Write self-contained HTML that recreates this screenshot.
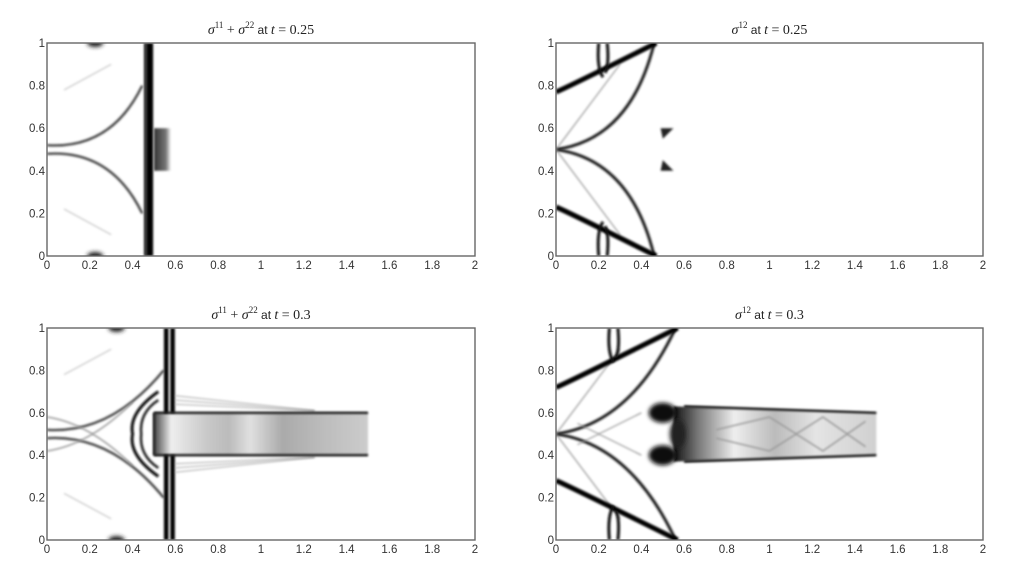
<!DOCTYPE html>
<html><head><meta charset="utf-8">
<style>
html,body{margin:0;padding:0;background:#fff;}
svg{display:block;}
text{font-family:"Liberation Sans",sans-serif;}
.tick{font-size:11.5px;fill:#333;}
.title{font-family:"Liberation Serif",serif;font-size:14px;fill:#222;}
</style></head>
<body>
<svg id="fig" width="1027" height="585" viewBox="0 0 1027 585" xmlns="http://www.w3.org/2000/svg">
<defs>
<filter id="blur" filterUnits="userSpaceOnUse" x="0" y="0" width="1027" height="585"><feGaussianBlur stdDeviation="1.1"/></filter>
<filter id="blur2" filterUnits="userSpaceOnUse" x="0" y="0" width="1027" height="585"><feGaussianBlur stdDeviation="2.2"/></filter>
<linearGradient id="gTL" x1="0" x2="1" y1="0" y2="0"><stop offset="0" stop-color="#333"/><stop offset="0.7" stop-color="#777"/><stop offset="1" stop-color="#fff"/></linearGradient>
<linearGradient id="gStrip" x1="0" x2="1" y1="0" y2="0"><stop offset="0" stop-color="#444"/><stop offset="0.08" stop-color="#eee"/><stop offset="0.25" stop-color="#c8c8c8"/><stop offset="0.35" stop-color="#bbb"/><stop offset="0.45" stop-color="#e0e0e0"/><stop offset="0.6" stop-color="#aaa"/><stop offset="0.8" stop-color="#bdbdbd"/><stop offset="1" stop-color="#ccc"/></linearGradient>
<linearGradient id="gStrip2" x1="0" x2="1" y1="0" y2="0"><stop offset="0" stop-color="#111"/><stop offset="0.12" stop-color="#777"/><stop offset="0.3" stop-color="#eee"/><stop offset="0.5" stop-color="#bbb"/><stop offset="0.7" stop-color="#e4e4e4"/><stop offset="1" stop-color="#d0d0d0"/></linearGradient>
</defs>
</svg>
<script>
const xTicks=[0,0.2,0.4,0.6,0.8,1,1.2,1.4,1.6,1.8,2];
const xTickLabels=["0","0.2","0.4","0.6","0.8","1","1.2","1.4","1.6","1.8","2"];
const yTicks=[0,0.2,0.4,0.6,0.8,1];
const yTickLabels=["0","0.2","0.4","0.6","0.8","1"];
const panelBoxes=[[47,43,475,256],[556,43,983,256],[47,328,475,540],[556,328,983,540]];
const times=["0.25","0.25","0.3","0.3"];
const fieldNames=["sum","s12","sum","s12"];
// strip extents (data units)
const stripStart=[0.5,0.5,0.5,0.55];
const stripEnd=[0.58,0.58,1.5,1.5];
const stripLow=[0.4,0.4,0.4,0.4];
const stripHigh=[0.6,0.6,0.6,0.6];
const frontX=[0.475,0.48,0.575,0.58];

const NS="http://www.w3.org/2000/svg";
const svg=document.getElementById('fig');
function el(tag,attrs,parent){const e=document.createElementNS(NS,tag);for(const k in attrs)e.setAttribute(k,attrs[k]);(parent||svg).appendChild(e);return e;}

panelBoxes.forEach((b,i)=>{
  const [L,T,R,B]=b;
  const sx=v=>L+(R-L)*v/2;
  const sy=v=>B-(B-T)*v;
  const g=el('g',{});
  
  
  const clipId='clip'+i;
  const cp=el('clipPath',{id:clipId},svg.querySelector('defs'));
  el('rect',{x:L,y:T,width:R-L,height:B-T},cp);
  const plot=el('g',{'clip-path':'url(#'+clipId+')'},g);
  
  
  const P=(x,y)=>sx(x).toFixed(1)+','+sy(y).toFixed(1);
  const fx=frontX[i];
  const ln=(d,w,c,f)=>el('path',{d:d,fill:'none',stroke:c,'stroke-width':w,filter:f||'url(#blur)'},plot);
  if(fieldNames[i]==='sum'){
    ln('M'+P(0,0.52)+' Q'+P(0.3,0.5)+' '+P(fx-0.03,0.8),2.4,'#444');
    ln('M'+P(0,0.48)+' Q'+P(0.3,0.5)+' '+P(fx-0.03,0.2),2.4,'#444');
    ln('M'+P(0.08,0.78)+' L'+P(0.3,0.9),1,'#bbb');
    ln('M'+P(0.08,0.22)+' L'+P(0.3,0.1),1,'#bbb');
    el('ellipse',{cx:sx(fx-0.25),cy:sy(1),rx:8,ry:4,fill:'#222',filter:'url(#blur2)'},plot);
    el('ellipse',{cx:sx(fx-0.25),cy:sy(0),rx:8,ry:4,fill:'#222',filter:'url(#blur2)'},plot);
    if(i===0){
      ln('M'+P(fx,0)+' L'+P(fx,1),9,'#000');
      ln('M'+P(fx-0.012,0)+' L'+P(fx-0.012,1),1,'#888');
      el('rect',{x:sx(stripStart[i]),y:sy(stripHigh[i]),width:sx(stripEnd[i])-sx(stripStart[i]),height:sy(stripLow[i])-sy(stripHigh[i]),fill:'url(#gTL)',filter:'url(#blur)'},plot);
    } else {
      ln('M'+P(fx-0.018,0)+' L'+P(fx-0.018,1),4.5,'#000');
      ln('M'+P(fx+0.012,0)+' L'+P(fx+0.012,1),4.5,'#000');
      ln('M'+P(0,0.58)+' Q'+P(0.2,0.55)+' '+P(0.4,0.35),1.5,'#999');
      ln('M'+P(0,0.42)+' Q'+P(0.2,0.45)+' '+P(0.4,0.65),1.5,'#999');
      ln('M'+P(0.52,0.7)+' Q'+P(0.38,0.6)+' '+P(0.4,0.5)+' Q'+P(0.38,0.4)+' '+P(0.52,0.3),3,'#111');
      ln('M'+P(0.52,0.66)+' Q'+P(0.43,0.6)+' '+P(0.44,0.5)+' Q'+P(0.43,0.4)+' '+P(0.52,0.34),2.5,'#222');
      [0.64,0.66,0.68].forEach(y=>{ln('M'+P(0.6,y)+' L'+P(1.25,0.61),1,'#aaa');ln('M'+P(0.6,1-y)+' L'+P(1.25,0.39),1,'#aaa');});
      el('rect',{x:sx(stripStart[i]),y:sy(stripHigh[i]),width:sx(stripEnd[i])-sx(stripStart[i]),height:sy(stripLow[i])-sy(stripHigh[i]),fill:'url(#gStrip)',filter:'url(#blur)'},plot);
      ln('M'+P(stripStart[i],stripHigh[i])+' L'+P(stripEnd[i],stripHigh[i]),2.2,'#000');
      ln('M'+P(stripStart[i],stripLow[i])+' L'+P(stripEnd[i],stripLow[i]),2.2,'#000');
      ln('M'+P(stripStart[i],stripLow[i])+' L'+P(stripStart[i],stripHigh[i]),2,'#000');
    }
  } else {
    const e=fx;
    ln('M'+P(0,0.5)+' Q'+P(0.35,0.55)+' '+P(e-0.02,1),3,'#222');
    ln('M'+P(0,0.5)+' Q'+P(0.35,0.45)+' '+P(e-0.02,0),3,'#222');
    ln('M'+P(0,0.5)+' L'+P(0.3,0.9),1.2,'#999');
    ln('M'+P(0,0.5)+' L'+P(0.3,0.1),1.2,'#999');
    const yd=i===1?0.77:0.72;
    ln('M'+P(0,yd)+' Q'+P(0.05,yd+0.02)+' '+P(e-0.01,1),5,'#000');
    ln('M'+P(0,1-yd)+' Q'+P(0.05,1-yd-0.02)+' '+P(e-0.01,0),5,'#000');
    const lx=i===1?0.22:0.27;
    ln('M'+P(lx-0.02,1)+' Q'+P(lx-0.03,0.88)+' '+P(lx,0.84),3,'#111');
    ln('M'+P(lx+0.02,1)+' Q'+P(lx+0.03,0.9)+' '+P(lx+0.01,0.86),3,'#111');
    ln('M'+P(lx-0.02,0)+' Q'+P(lx-0.03,0.12)+' '+P(lx,0.16),3,'#111');
    ln('M'+P(lx+0.02,0)+' Q'+P(lx+0.03,0.1)+' '+P(lx+0.01,0.14),3,'#111');
    if(i===1){
      el('path',{d:'M'+P(0.49,0.6)+' L'+P(0.55,0.6)+' L'+P(0.5,0.55)+'Z',fill:'#222',filter:'url(#blur)'},plot);
      el('path',{d:'M'+P(0.49,0.4)+' L'+P(0.55,0.4)+' L'+P(0.5,0.45)+'Z',fill:'#222',filter:'url(#blur)'},plot);
    } else {
      ln('M'+P(0.1,0.55)+' Q'+P(0.3,0.45)+' '+P(0.4,0.4),1.2,'#999');
      ln('M'+P(0.1,0.45)+' Q'+P(0.3,0.55)+' '+P(0.4,0.6),1.2,'#999');
      el('path',{d:'M'+P(stripStart[i],0.63)+' L'+P(stripEnd[i],stripHigh[i])+' L'+P(stripEnd[i],stripLow[i])+' L'+P(stripStart[i],0.37)+'Z',fill:'url(#gStrip2)',filter:'url(#blur)'},plot);
      ln('M'+P(0.75,0.52)+' L'+P(1.0,0.58)+' L'+P(1.25,0.42)+' L'+P(1.45,0.56),1.5,'#999');
      ln('M'+P(0.75,0.48)+' L'+P(1.0,0.42)+' L'+P(1.25,0.58)+' L'+P(1.45,0.44),1.5,'#999');
      ln('M'+P(0.6,0.63)+' L'+P(stripEnd[i],stripHigh[i]),2.2,'#000');
      ln('M'+P(0.6,0.37)+' L'+P(stripEnd[i],stripLow[i]),2.2,'#000');
      el('ellipse',{cx:sx(0.5),cy:sy(0.6),rx:14,ry:10,fill:'#111',filter:'url(#blur2)'},plot);
      el('ellipse',{cx:sx(0.5),cy:sy(0.4),rx:14,ry:10,fill:'#111',filter:'url(#blur2)'},plot);
      el('ellipse',{cx:sx(0.57),cy:sy(0.5),rx:8,ry:14,fill:'#222',filter:'url(#blur2)'},plot);
    }
  }
  const fr=el('rect',{x:L,y:T,width:R-L,height:B-T,fill:'none',stroke:'#666','stroke-width':1.4},g);
  
  
  xTicks.forEach((v,k)=>{
    const t=el('text',{x:sx(v),y:B+13,'text-anchor':'middle',class:'tick'},g);
    
    
    t.textContent=xTickLabels[k];
  });
  yTicks.forEach((v,k)=>{
    const t=el('text',{x:L-2,y:sy(v)+4,'text-anchor':'end',class:'tick'},g);
    
    
    t.textContent=yTickLabels[k];
  });
  const tt=el('text',{x:(L+R)/2,y:T-9,'text-anchor':'middle',class:'title'},g);
  
  
  if(fieldNames[i]==='sum'){
    tt.innerHTML='<tspan font-style="italic">σ</tspan><tspan font-size="9" dy="-6">11</tspan><tspan dy="6"> + </tspan><tspan font-style="italic">σ</tspan><tspan font-size="9" dy="-6">22</tspan><tspan dy="6" font-family="Liberation Sans" font-size="12"> at </tspan><tspan font-style="italic">t</tspan><tspan> = '+times[i]+'</tspan>';
  } else {
    tt.innerHTML='<tspan font-style="italic">σ</tspan><tspan font-size="9" dy="-6">12</tspan><tspan dy="6" font-family="Liberation Sans" font-size="12"> at </tspan><tspan font-style="italic">t</tspan><tspan> = '+times[i]+'</tspan>';
  }
});
</script>
</body></html>
